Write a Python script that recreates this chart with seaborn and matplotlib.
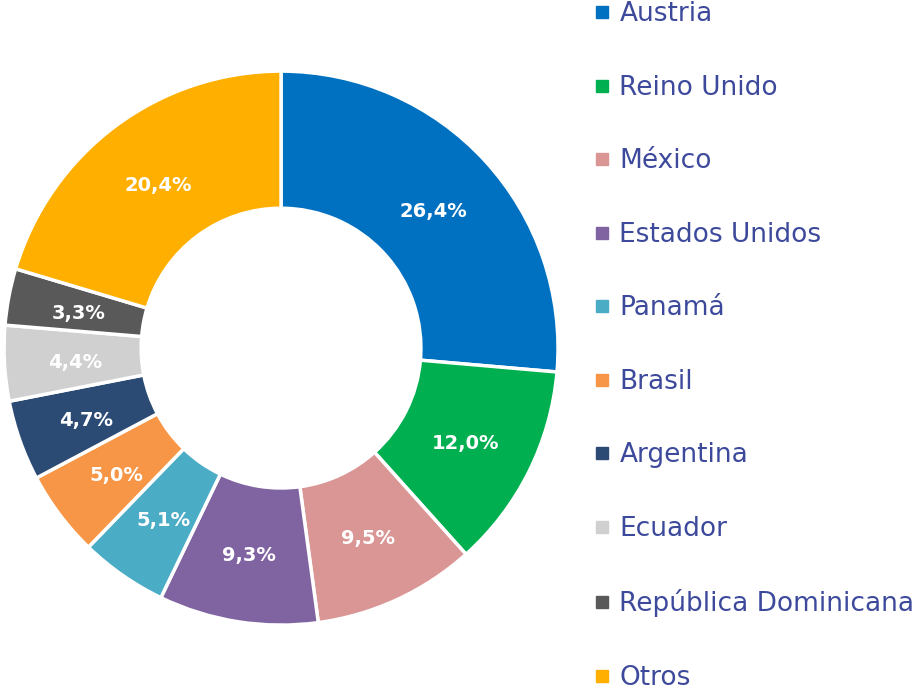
import numpy as np
import seaborn as sns
import matplotlib.pyplot as plt
from matplotlib.lines import Line2D

# data
countries = ["Austria", "Reino Unido", "México", "Estados Unidos", "Panamá",
             "Brasil", "Argentina", "Ecuador", "República Dominicana", "Otros"]
shares = [26.4, 12.0, 9.5, 9.3, 5.1, 5.0, 4.7, 4.4, 3.3, 20.4]
colors = ["#0070C0", "#00B050", "#DA9694", "#8064A2", "#4BACC6",
          "#F79646", "#2C4B74", "#D0D0D0", "#595959", "#FFAF00"]

sns.set_theme(style="white")
plt.rcParams['font.family'] = ['DejaVu Sans']

fig = plt.figure(figsize=(9.15, 7), dpi=100)
ax = fig.add_axes([0.0044, 0.107, 0.6055, 0.7914])

wedges, texts = ax.pie(shares, colors=colors, startangle=90, counterclock=False,
                       radius=1, wedgeprops=dict(width=0.495, edgecolor="white", linewidth=2.5))

# percentage labels with comma decimals
for w, v in zip(wedges, shares):
    ang = np.deg2rad((w.theta1 + w.theta2) / 2)
    r = 0.745
    ax.text(r * np.cos(ang), r * np.sin(ang) - 0.012, f"{v:.1f}%".replace(".", ","),
            ha="center", va="center", color="white", fontsize=14, fontweight="bold")

ax.set_xlim(-1, 1)
ax.set_ylim(-1, 1)
ax.set_aspect("equal")
ax.axis("off")

handles = [Line2D([], [], marker="s", linestyle="", markersize=8, color=c) for c in colors]
leg = fig.legend(handles, countries, loc="upper left", bbox_to_anchor=(0.638, 1.013),
                 frameon=False, fontsize=19, labelspacing=1.8, handlelength=0.55,
                 handletextpad=0.4, borderaxespad=0)
for t in leg.get_texts():
    t.set_color("#3D4A9C")

fig.savefig("out.png", dpi=100)
